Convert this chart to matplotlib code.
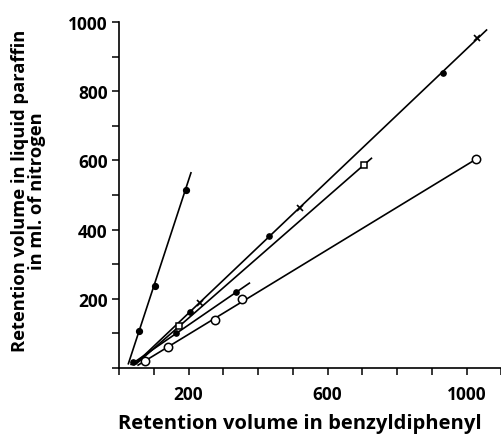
import matplotlib
matplotlib.use("Agg")
import matplotlib.pyplot as plt

plt.rcParams['font.family'] = ['Open Sans', 'DejaVu Sans']

# Series: (x, y) points
steep_x = [58, 103, 192]
steep_y = [108, 238, 514]
steep_line_x = [27, 207]
steep_line_y = [12, 564]

a_dot_x = [204, 432, 932]
a_dot_y = [163, 380, 853]
a_cross_x = [232, 522, 1030]
a_cross_y = [188, 463, 953]
a_line_x = [45, 1057]
a_line_y = [10, 977]

b_sq_x = [172, 705]
b_sq_y = [121, 587]
b_line_x = [50, 726]
b_line_y = [12, 606]

c_dot_x = [41, 164, 336]
c_dot_y = [16, 102, 220]
c_line_x = [35, 375]
c_line_y = [10, 245]

d_circ_x = [75, 142, 276, 353, 1026]
d_circ_y = [20, 59, 138, 199, 603]
d_line_x = [55, 1026]
d_line_y = [8, 603]

xticks = list(range(0, 1101, 100))
xlabels = ['', '', '200', '', '', '', '600', '', '', '', '1000', '']
yticks = list(range(0, 1001, 100))
ylabels = ['', '', '200', '', '400', '', '600', '', '800', '', '1000']

fig = plt.figure(figsize=(5.02, 4.35), dpi=100)
ax = fig.add_axes([0.237, 0.152, 0.762, 0.795])

lw = 1.2
for lx, ly in [(steep_line_x, steep_line_y), (a_line_x, a_line_y),
               (b_line_x, b_line_y), (c_line_x, c_line_y),
               (d_line_x, d_line_y)]:
    ax.plot(lx, ly, color='black', lw=lw, zorder=2)

ax.plot(steep_x, steep_y, 'o', color='black', ms=4.2, zorder=3)
ax.plot(a_dot_x, a_dot_y, 'o', color='black', ms=3.8, zorder=3)
ax.plot(a_cross_x, a_cross_y, 'x', color='black', ms=4, mew=1.2, zorder=3)
ax.plot(b_sq_x, b_sq_y, 's', mfc='white', mec='black', ms=4, mew=1.1, zorder=3)
ax.plot(c_dot_x, c_dot_y, 'o', color='black', ms=3.8, zorder=3)
ax.plot(d_circ_x, d_circ_y, 'o', mfc='white', mec='black', ms=6, mew=1.1, zorder=3)

ax.set_xlim(0, 1100)
ax.set_ylim(0, 1000)
ax.spines['top'].set_visible(False)
ax.spines['right'].set_visible(False)
for s in ['left', 'bottom']:
    ax.spines[s].set_linewidth(1.2)

ax.set_xticks(xticks)
ax.set_xticklabels(xlabels)
ax.set_yticks(yticks)
ax.set_yticklabels(ylabels)
ax.tick_params(direction='out', length=5, width=1.1, labelsize=12.5)
ax.tick_params(axis='x', pad=7)
ax.tick_params(axis='y', pad=3)
for t in ax.get_xticklabels() + ax.get_yticklabels():
    t.set_fontweight('bold')

ax.set_xlabel('Retention volume in benzyldiphenyl', fontsize=14.5, fontweight='bold')
ax.xaxis.set_label_coords(0.473, -0.13)
ax.set_ylabel('Retention volume in liquid paraffin\nin ml. of nitrogen', fontsize=13.2,
              fontweight='bold', linespacing=0.95)
ax.yaxis.set_label_coords(-0.19, 0.515)

fig.savefig('out.png', dpi=100)
